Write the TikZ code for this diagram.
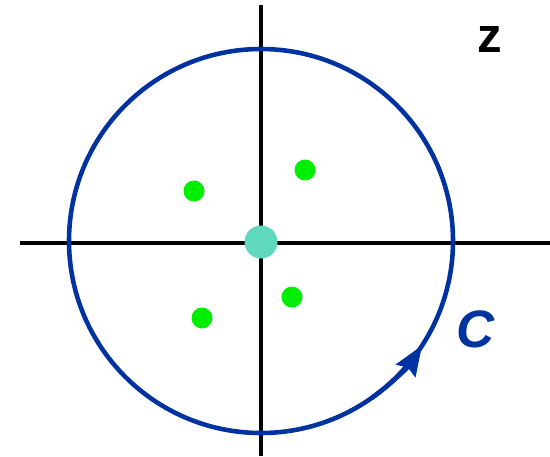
\documentclass[tikz,border=0pt]{standalone}
\usepackage{fontspec}
\setmainfont{Liberation Sans}
\usetikzlibrary{arrows.meta}
\definecolor{cblue}{RGB}{0,51,160}
\definecolor{cteal}{RGB}{94,217,192}
\definecolor{cgreen}{RGB}{0,238,0}
\begin{document}
\begin{tikzpicture}[x=0.02cm,y=-0.02cm,
  axis/.style={line width=1.8pt,black},
  contour/.style={line width=2.6pt,cblue},
  pole/.style={circle,fill=cgreen,inner sep=0pt,minimum size=0.42cm},
  origin/.style={circle,fill=cteal,inner sep=0pt,minimum size=0.66cm},
  lbl/.style={inner sep=0pt,font=\bfseries}]
\useasboundingbox (0,0) rectangle (550,456);
\coordinate (xl) at (20,243);
\coordinate (xr) at (550,243);
\coordinate (yt) at (261,5);
\coordinate (yb) at (261,456);
\draw[axis] (xl) -- (xr);
\draw[axis] (yt) -- (yb);
\coordinate (c0) at (261,241);
\draw[contour] (c0) circle[radius=192];
\draw[contour,-{Stealth[length=0.6cm,width=0.46cm,inset=0.08cm]}] ([shift={(55:192)}]c0) arc[start angle=55,end angle=33,radius=192];
\node[origin] (o) at (261,242) {};
\node[pole] (p1) at (194,191) {};
\node[pole] (p2) at (305,170) {};
\node[pole] (p3) at (202,318) {};
\node[pole] (p4) at (292,297) {};
\node[lbl,font=\bfseries\fontsize{28}{30}\selectfont] (z) at (490,40) {z};
\node[lbl,text=cblue,font=\bfseries\itshape\fontsize{30}{32}\selectfont] (C) at (476,329) {C};
\end{tikzpicture}
\end{document}
